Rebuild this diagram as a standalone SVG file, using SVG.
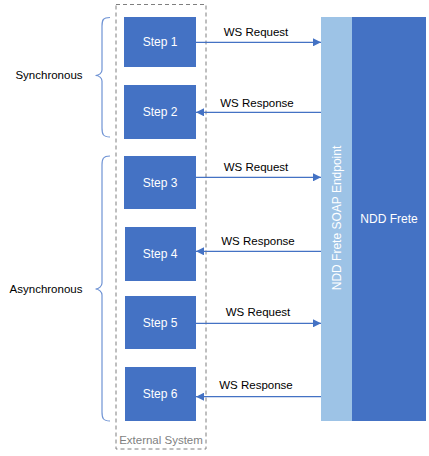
<svg xmlns="http://www.w3.org/2000/svg" width="429" height="456" viewBox="0 0 429 456">
<style>
.step{fill:#4472c4}
.st{font-family:"Liberation Sans",Arial,sans-serif;font-size:12px;fill:#ffffff;text-anchor:middle;dominant-baseline:central}
.lbl{font-family:"Liberation Sans",Arial,sans-serif;font-size:11.5px;fill:#000000;text-anchor:middle;dominant-baseline:central}
.conn{stroke:#4472c4;stroke-width:1.2;fill:none}
.brace{stroke:#6f93d4;stroke-width:1.2;fill:none}
</style>
<defs>
<marker id="ah" viewBox="0 0 10 10" refX="10" refY="5" markerWidth="8" markerHeight="8" markerUnits="userSpaceOnUse" orient="auto">
<path d="M0,0 L10,5 L0,10 Z" fill="#4472c4"/>
</marker>
</defs>
<g id="external-system">
<rect x="116" y="4.5" width="90" height="444.5" fill="none" stroke="#7f7f7f" stroke-width="1" stroke-dasharray="4,3"/>
<text x="161" y="440" font-family="Liberation Sans,Arial,sans-serif" font-size="11.5" fill="#7f7f7f" text-anchor="middle" dominant-baseline="central">External System</text>
</g>
<g id="step1"><rect class="step" x="124" y="17" width="72" height="50"/><text class="st" x="160" y="42">Step 1</text></g>
<g id="step2"><rect class="step" x="124" y="85" width="72" height="54"/><text class="st" x="160" y="112">Step 2</text></g>
<g id="step3"><rect class="step" x="124" y="156" width="72" height="53"/><text class="st" x="160" y="183">Step 3</text></g>
<g id="step4"><rect class="step" x="125" y="227" width="71" height="54"/><text class="st" x="160" y="254">Step 4</text></g>
<g id="step5"><rect class="step" x="125" y="296" width="71" height="53"/><text class="st" x="160" y="323">Step 5</text></g>
<g id="step6"><rect class="step" x="125" y="367" width="71" height="54"/><text class="st" x="160" y="394">Step 6</text></g>
<g id="endpoint">
<rect x="321" y="17" width="31" height="404" fill="#9dc3e6"/>
<text class="st" x="0" y="0" transform="translate(337,218) rotate(-90)">NDD Frete SOAP Endpoint</text>
</g>
<g id="ndd-frete">
<rect x="352" y="17" width="74" height="404" fill="#4472c4"/>
<text class="st" x="389" y="219">NDD Frete</text>
</g>
<g id="synchronous">
<path class="brace" d="M110,17.5 C103,17.5 102,20 102,26 L102,70 C102,73 99,75.5 95.5,75.5 C99,75.5 102,78 102,81 L102,128 C102,134 103,137 110,137"/>
<text class="lbl" x="49" y="75">Synchronous</text>
</g>
<g id="asynchronous">
<path class="brace" d="M110,156 C103,156 102,159 102,165 L102,283 C102,286 99,289 95.5,289 C99,289 102,292 102,295 L102,412 C102,418 103,421 110,421"/>
<text class="lbl" x="46" y="289">Asynchronous</text>
</g>
<g id="connectors">
<line class="conn" x1="196" y1="42.3" x2="321" y2="42.3" marker-end="url(#ah)"/>
<line class="conn" x1="321" y1="112.3" x2="196" y2="112.3" marker-end="url(#ah)"/>
<line class="conn" x1="196" y1="177.3" x2="321" y2="177.3" marker-end="url(#ah)"/>
<line class="conn" x1="321" y1="251.3" x2="196" y2="251.3" marker-end="url(#ah)"/>
<line class="conn" x1="196" y1="323.3" x2="321" y2="323.3" marker-end="url(#ah)"/>
<line class="conn" x1="321" y1="396.7" x2="196" y2="396.7" marker-end="url(#ah)"/>
<text class="lbl" x="256" y="31.5">WS Request</text>
<text class="lbl" x="257" y="102.5">WS Response</text>
<text class="lbl" x="256" y="166.5">WS Request</text>
<text class="lbl" x="258" y="240.5">WS Response</text>
<text class="lbl" x="258" y="312">WS Request</text>
<text class="lbl" x="256" y="385">WS Response</text>
</g>
</svg>
